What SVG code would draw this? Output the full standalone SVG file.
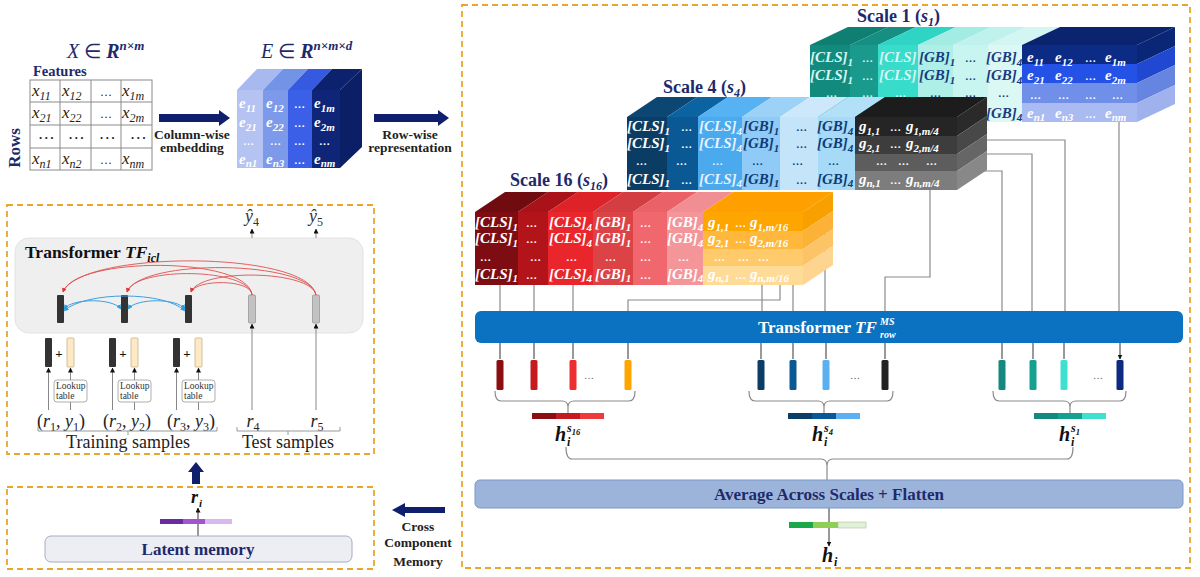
<svg xmlns="http://www.w3.org/2000/svg" width="1200" height="577" viewBox="0 0 1200 577">
<style>
.bt{font-family:"Liberation Serif",serif;font-weight:bold;font-style:italic;font-size:15px}
.s{font-size:11px}
.d{font-size:11px;font-style:normal}
.ser{font-family:"Liberation Serif",serif}
.nvy{fill:#1e2a6b}
.lbl{font-family:"Liberation Serif",serif;font-weight:bold;font-size:13.5px;fill:#222;text-anchor:middle}
.dash{fill:none;stroke:#e8a72a;stroke-width:1.8;stroke-dasharray:6 4}
.ln{fill:none;stroke:#8a8a8a;stroke-width:1.2}
.ar{fill:none;stroke:#333;stroke-width:1;marker-end:url(#ah)}
.cell{font-family:"Liberation Serif",serif;font-style:italic;font-size:17px;fill:#222}
</style>
<defs>
<marker id="ah" viewBox="0 0 10 10" refX="9" refY="5" markerWidth="5" markerHeight="5" orient="auto-start-reverse"><path d="M0,0 L10,5 L0,10 z" fill="#111"/></marker>
<marker id="ahr" viewBox="0 0 10 10" refX="9" refY="5" markerWidth="5" markerHeight="5" orient="auto-start-reverse"><path d="M0,0 L10,5 L0,10 z" fill="#e03c3c"/></marker>
<marker id="ahb" viewBox="0 0 10 10" refX="9" refY="5" markerWidth="5" markerHeight="5" orient="auto-start-reverse"><path d="M0,0 L10,5 L0,10 z" fill="#2f9be0"/></marker>
</defs>
<rect width="1200" height="577" fill="#fff"/>

<!-- dashed frames -->
<rect class="dash" x="462" y="5" width="728" height="563"/>
<rect class="dash" x="7" y="205" width="367" height="249"/>
<rect class="dash" x="7" y="487" width="367" height="82"/>

<!-- Input table -->
<g id="input-table">
<text x="67" y="58" class="ser nvy" font-size="20"><tspan font-style="italic">X</tspan> ∈ <tspan font-weight="bold" font-style="italic">R</tspan><tspan font-size="13" dy="-8" font-weight="bold" font-style="italic">n×m</tspan></text>
<text x="33" y="76" class="ser nvy" font-size="14.5" font-weight="bold">Features</text>
<text transform="translate(20,148) rotate(-90)" text-anchor="middle" class="ser nvy" font-size="17" font-weight="bold">Rows</text>
<g stroke="#8a8a8a" stroke-width="1" fill="none">
<rect x="30" y="80" width="122" height="90"/>
<path d="M60,80V170M91,80V170M121,80V170M30,102H152M30,125H152M30,148H152"/>
</g>
<text class="cell" y="96"><tspan x="32">x</tspan><tspan font-size="12" dy="4">11</tspan><tspan x="62" dy="-4">x</tspan><tspan font-size="12" dy="4">12</tspan><tspan x="100" dy="-4" font-size="12" font-style="normal">…</tspan><tspan x="122">x</tspan><tspan font-size="12" dy="4">1m</tspan></text>
<text class="cell" y="118"><tspan x="32">x</tspan><tspan font-size="12" dy="4">21</tspan><tspan x="62" dy="-4">x</tspan><tspan font-size="12" dy="4">22</tspan><tspan x="100" dy="-4" font-size="12" font-style="normal">…</tspan><tspan x="122">x</tspan><tspan font-size="12" dy="4">2m</tspan></text>
<text class="cell" y="139" font-size="12" font-style="normal"><tspan x="39">…</tspan><tspan x="69">…</tspan><tspan x="100">…</tspan><tspan x="131">…</tspan></text>
<text class="cell" y="164"><tspan x="32">x</tspan><tspan font-size="12" dy="4">n1</tspan><tspan x="62" dy="-4">x</tspan><tspan font-size="12" dy="4">n2</tspan><tspan x="100" dy="-4" font-size="12" font-style="normal">…</tspan><tspan x="122">x</tspan><tspan font-size="12" dy="4">nm</tspan></text>
</g>

<!-- arrows top -->
<g id="arrow-embed">
<polygon points="159,114 219,114 219,110 230,118 219,126 219,122 159,122" fill="#0f1f6e"/>
<text class="lbl" x="192" y="139">Column-wise</text>
<text class="lbl" x="192" y="152">embedding</text>
</g>
<g id="arrow-row">
<polygon points="374,114 438,114 438,110 449,118 438,126 438,122 374,122" fill="#0f1f6e"/>
<text class="lbl" x="410" y="139">Row-wise</text>
<text class="lbl" x="410" y="152">representation</text>
</g>

<!-- Embedding cube -->
<g id="embedding-cube">
<text x="261" y="58" class="ser nvy" font-size="20"><tspan font-style="italic">E</tspan> ∈ <tspan font-weight="bold" font-style="italic">R</tspan><tspan font-size="13" dy="-8" font-weight="bold" font-style="italic">n×m×d</tspan></text>
<polygon points="237,90 263,90 283,69 257,69" fill="#a8b9ef"/>
<rect x="237" y="90" width="26" height="78" fill="#b4c3f2"/>
<polygon points="263,90 288,90 308,69 283,69" fill="#7393e6"/>
<rect x="263" y="90" width="25" height="78" fill="#7d99ea"/>
<polygon points="288,90 312,90 332,69 308,69" fill="#355ae0"/>
<rect x="288" y="90" width="24" height="78" fill="#3b5fe6"/>
<polygon points="312,90 340,90 362,69 332,69" fill="#0c226e"/>
<rect x="312" y="90" width="28" height="78" fill="#0f2577"/>
<polygon points="340,90 362,69 362,147 340,168" fill="#0b1f66"/>
<text class="bt" y="108" fill="#fff"><tspan x="239">e</tspan><tspan class="s" dy="4">11</tspan><tspan x="266" dy="-4">e</tspan><tspan class="s" dy="4">12</tspan><tspan class="d" x="294" dy="-4">…</tspan><tspan x="314">e</tspan><tspan class="s" dy="4">1m</tspan></text>
<text class="bt" y="127" fill="#fff"><tspan x="239">e</tspan><tspan class="s" dy="4">21</tspan><tspan x="266" dy="-4">e</tspan><tspan class="s" dy="4">22</tspan><tspan class="d" x="294" dy="-4">…</tspan><tspan x="314">e</tspan><tspan class="s" dy="4">2m</tspan></text>
<text class="bt d" y="145" fill="#fff"><tspan x="243">…</tspan><tspan x="270">…</tspan><tspan x="294">…</tspan><tspan x="319">…</tspan></text>
<text class="bt" y="164" fill="#fff"><tspan x="239">e</tspan><tspan class="s" dy="3">n1</tspan><tspan x="266" dy="-3">e</tspan><tspan class="s" dy="3">n3</tspan><tspan class="d" x="294" dy="-3">…</tspan><tspan x="314">e</tspan><tspan class="s" dy="3">nm</tspan></text>
</g>

<!-- ICL transformer -->
<g id="transformer-icl">
<rect x="15" y="238" width="348" height="95" rx="14" fill="#efefef" stroke="#e2e2e2"/>
<text x="25" y="258" class="ser" font-size="17.5" font-weight="bold" fill="#111">Transformer <tspan font-style="italic">TF</tspan><tspan font-style="italic" font-size="12" dy="4">icl</tspan></text>
<rect x="57" y="295" width="7" height="28" rx="1" fill="#333"/>
<rect x="121" y="295" width="7" height="28" rx="1" fill="#333"/>
<rect x="185" y="295" width="7" height="28" rx="1" fill="#333"/>
<rect x="248.5" y="295" width="7" height="28" rx="1" fill="#c2c2c2" stroke="#999" stroke-width="0.8"/>
<rect x="312.5" y="295" width="7" height="28" rx="1" fill="#c2c2c2" stroke="#999" stroke-width="0.8"/>
<text class="ser" font-size="18" font-style="italic" fill="#333" y="222"><tspan x="245">ŷ</tspan><tspan font-size="12" dy="4" font-style="normal">4</tspan><tspan x="309" dy="-4">ŷ</tspan><tspan font-size="12" dy="4" font-style="normal">5</tspan></text>
</g>
<g id="training-inputs">
<rect x="45" y="338" width="7" height="29" rx="1" fill="#333"/><text x="59" y="358" text-anchor="middle" class="ser" font-size="13" font-weight="bold" fill="#111">+</text><rect x="67" y="338" width="7" height="29" rx="1" fill="#fde9c6" stroke="#c8b088" stroke-width="0.8"/>
<rect x="109" y="338" width="7" height="29" rx="1" fill="#333"/><text x="123" y="358" text-anchor="middle" class="ser" font-size="13" font-weight="bold" fill="#111">+</text><rect x="131" y="338" width="7" height="29" rx="1" fill="#fde9c6" stroke="#c8b088" stroke-width="0.8"/>
<rect x="173" y="338" width="7" height="29" rx="1" fill="#333"/><text x="187" y="358" text-anchor="middle" class="ser" font-size="13" font-weight="bold" fill="#111">+</text><rect x="195" y="338" width="7" height="29" rx="1" fill="#fde9c6" stroke="#c8b088" stroke-width="0.8"/>
<g fill="#fff" stroke="#999" stroke-width="0.8">
<rect x="54" y="380" width="33" height="22" rx="3"/><rect x="118" y="380" width="33" height="22" rx="3"/><rect x="182" y="380" width="33" height="22" rx="3"/>
</g>
<g class="ser" font-size="9.5" fill="#333">
<text x="56" y="389">Lookup</text><text x="56" y="399">table</text>
<text x="120" y="389">Lookup</text><text x="120" y="399">table</text>
<text x="184" y="389">Lookup</text><text x="184" y="399">table</text>
</g>
<g class="ser" font-size="18" fill="#222" text-anchor="middle">
<text x="61" y="427">(<tspan font-style="italic">r</tspan><tspan font-size="12" dy="4">1</tspan><tspan dy="-4">, </tspan><tspan font-style="italic">y</tspan><tspan font-size="12" dy="4">1</tspan><tspan dy="-4">)</tspan></text>
<text x="127" y="427">(<tspan font-style="italic">r</tspan><tspan font-size="12" dy="4">2</tspan><tspan dy="-4">, </tspan><tspan font-style="italic">y</tspan><tspan font-size="12" dy="4">2</tspan><tspan dy="-4">)</tspan></text>
<text x="191" y="427">(<tspan font-style="italic">r</tspan><tspan font-size="12" dy="4">3</tspan><tspan dy="-4">, </tspan><tspan font-style="italic">y</tspan><tspan font-size="12" dy="4">3</tspan><tspan dy="-4">)</tspan></text>
<text x="253" y="427"><tspan font-style="italic">r</tspan><tspan font-size="12" dy="4">4</tspan></text>
<text x="317" y="427"><tspan font-style="italic">r</tspan><tspan font-size="12" dy="4">5</tspan></text>
<text x="128" y="448">Training samples</text>
<text x="288" y="448">Test samples</text>
</g>
</g>

<!-- Connectors -->
<g id="connectors">
<path class="ln" d="M500,280V311M534,280V311M573,280V311M780,280V300H628V311M762,200V311M793,200V311M825,200V311M930,180V277H885V311M975,140H1065V311M975,154H1032V311M975,171H1002V311M1119,115V311"/>
<path class="ar" d="M500,343V359M534,343V359M573,343V359M628,343V359M761,343V359M793,343V359M826,343V359M885,343V359M1002,343V359M1033,343V359M1064,343V359M1120,343V359"/>
<path class="ln" d="M495,391Q495,401 501,401H562Q568,401 568,407Q568,401 574,401H629Q635,401 635,391M568,407V413"/>
<path class="ln" d="M749,391Q749,401 755,401H818Q824,401 824,407Q824,401 830,401H887Q893,401 893,391M824,407V413"/>
<path class="ln" d="M993,391Q993,401 999,401H1064Q1070,401 1070,407Q1070,401 1076,401H1120Q1126,401 1126,391M1070,407V413"/>
<path class="ln" d="M566,447Q566,459 572,459H821Q827,459 827,466Q827,459 833,459H1067Q1073,459 1073,447M827,466V480"/>
<path class="ar" d="M829,508V546"/>
<path class="ar" d="M198,536V508"/>
<g fill="none" stroke="#e05050" stroke-width="0.9" marker-end="url(#ahr)">
<path d="M252,295C252,279 196,279 191,292"/>
<path d="M252,295C250,268 135,266 127,292"/>
<path d="M252,295C248,256 75,256 63,292"/>
<path d="M316,295C312,270 200,268 191,292"/>
<path d="M316,295C310,260 140,258 127,292"/>
<path d="M316,295C308,250 80,250 63,292"/>
</g>
<g fill="none" stroke="#3ca0e0" stroke-width="1" marker-end="url(#ahb)" marker-start="url(#ahb)">
<path d="M64,309C72,298 113,298 121,309"/>
<path d="M128,309C136,298 177,298 185,309"/>
<path d="M64,311C85,291 165,291 185,311"/>
</g>
<g fill="none" stroke="#888" stroke-width="1">
<path d="M48.5,410V368" marker-end="url(#ah)"/>
<path d="M112.5,410V368" marker-end="url(#ah)"/>
<path d="M176.5,410V368" marker-end="url(#ah)"/>
<path d="M70.5,380V368" marker-end="url(#ah)"/>
<path d="M134.5,380V368" marker-end="url(#ah)"/>
<path d="M198.5,380V368" marker-end="url(#ah)"/>
<path d="M70.5,410V402M134.5,410V402M198.5,410V402"/>
<path d="M252,410V324" marker-end="url(#ah)"/>
<path d="M316,410V324" marker-end="url(#ah)"/>
<path d="M252,238V229" marker-end="url(#ah)"/>
<path d="M316,238V229" marker-end="url(#ah)"/>
<path d="M38,427V431H217V427M128,431V435M237,427V431H340V427M288,431V435" stroke="#999"/>
</g>
</g>

<!-- Scale 1 block -->
<g id="scale1">
<text x="857" y="22" class="ser nvy" font-size="18" font-weight="bold">Scale 1 (<tspan font-style="italic">s</tspan><tspan font-style="italic" font-size="12" dy="4">1</tspan><tspan dy="-4">)</tspan></text>
<polygon points="810,45 850,45 888,27 848,27" fill="#0f7f74"/><rect x="810" y="45" width="40" height="77" fill="#138a7e"/>
<polygon points="850,45 878,45 916,27 888,27" fill="#168f82"/><rect x="850" y="45" width="28" height="77" fill="#1a9a8c"/>
<polygon points="878,45 918,45 956,27 916,27" fill="#2fd4c4"/><rect x="878" y="45" width="40" height="77" fill="#38dccb"/>
<polygon points="918,45 953,45 991,27 956,27" fill="#a2ece4"/><rect x="918" y="45" width="35" height="77" fill="#aef0e8"/>
<polygon points="953,45 988,45 1026,27 991,27" fill="#bff2ec"/><rect x="953" y="45" width="35" height="77" fill="#c8f5f0"/>
<polygon points="988,45 1022,45 1060,27 1026,27" fill="#d3f6f2"/><rect x="988" y="45" width="34" height="77" fill="#dcf8f5"/>
<polygon points="1022,45 1137,45 1175,27 1060,27" fill="#0a2470"/>
<rect x="1022" y="45" width="115" height="19" fill="#0c2b84"/>
<rect x="1022" y="64" width="115" height="19" fill="#2552e6"/>
<rect x="1022" y="83" width="115" height="20" fill="#6f8fe8"/>
<rect x="1022" y="103" width="115" height="19" fill="#aabbf2"/>
<polygon points="1137,45 1175,27 1175,46 1137,64" fill="#0a2676"/>
<polygon points="1137,64 1175,46 1175,65 1137,83" fill="#2048d0"/>
<polygon points="1137,83 1175,65 1175,85 1137,103" fill="#6585e0"/>
<polygon points="1137,103 1175,85 1175,104 1137,122" fill="#a0b2ee"/>
<text class="bt" y="62" fill="#d6f7f2"><tspan x="810">[CLS]</tspan><tspan class="s" dy="4">1</tspan><tspan class="d" x="862" dy="-4">…</tspan><tspan x="879">[CLS]</tspan></text>
<text class="bt" y="62" fill="#173a80"><tspan x="919">[GB]</tspan><tspan class="s" dy="4">1</tspan><tspan class="d" x="965" dy="-4">…</tspan><tspan x="986">[GB]</tspan><tspan class="s" dy="4">4</tspan></text>
<text class="bt" y="62" fill="#fff"><tspan x="1027">e</tspan><tspan class="s" dy="4">11</tspan><tspan x="1055" dy="-4">e</tspan><tspan class="s" dy="4">12</tspan><tspan class="d" x="1085" dy="-4">…</tspan><tspan x="1105">e</tspan><tspan class="s" dy="4">1m</tspan></text>
<text class="bt" y="80" fill="#d6f7f2"><tspan x="810">[CLS]</tspan><tspan class="s" dy="4">1</tspan><tspan class="d" x="862" dy="-4">…</tspan><tspan x="879">[CLS]</tspan></text>
<text class="bt" y="80" fill="#173a80"><tspan x="919">[GB]</tspan><tspan class="s" dy="4">1</tspan><tspan class="d" x="965" dy="-4">…</tspan><tspan x="986">[GB]</tspan><tspan class="s" dy="4">4</tspan></text>
<text class="bt" y="80" fill="#fff"><tspan x="1027">e</tspan><tspan class="s" dy="4">21</tspan><tspan x="1055" dy="-4">e</tspan><tspan class="s" dy="4">22</tspan><tspan class="d" x="1085" dy="-4">…</tspan><tspan x="1105">e</tspan><tspan class="s" dy="4">2m</tspan></text>
<text class="bt d" y="97" fill="#d6f7f2"><tspan x="826">…</tspan><tspan x="862">…</tspan><tspan x="895">…</tspan></text>
<text class="bt d" y="97" fill="#173a80"><tspan x="930">…</tspan><tspan x="965">…</tspan><tspan x="998">…</tspan></text>
<text class="bt d" y="99" fill="#fff"><tspan x="1030">…</tspan><tspan x="1058">…</tspan><tspan x="1085">…</tspan><tspan x="1112">…</tspan></text>
<text class="bt" y="118" fill="#173a80"><tspan x="986">[GB]</tspan><tspan class="s" dy="3">4</tspan></text>
<text class="bt" y="118" fill="#fff"><tspan x="1027">e</tspan><tspan class="s" dy="3">n1</tspan><tspan x="1055" dy="-3">e</tspan><tspan class="s" dy="3">n3</tspan><tspan class="d" x="1085" dy="-3">…</tspan><tspan x="1105">e</tspan><tspan class="s" dy="3">nm</tspan></text>
</g>

<!-- Scale 4 block -->
<g id="scale4">
<text x="663" y="93" class="ser nvy" font-size="18" font-weight="bold">Scale 4 (<tspan font-style="italic">s</tspan><tspan font-style="italic" font-size="12" dy="4">4</tspan><tspan dy="-4">)</tspan></text>
<polygon points="627,117 667,117 697,97 657,97" fill="#0c4672"/><rect x="627" y="117" width="40" height="73" fill="#0a3c64"/>
<polygon points="667,117 698,117 728,97 697,97" fill="#0c63a2"/><rect x="667" y="117" width="31" height="73" fill="#0b5994"/>
<polygon points="698,117 742,117 772,97 728,97" fill="#56b2f2"/><rect x="698" y="117" width="44" height="73" fill="#4ba9ee"/>
<polygon points="742,117 780,117 810,97 772,97" fill="#9cd2f7"/><rect x="742" y="117" width="38" height="73" fill="#8fcbf6"/>
<polygon points="780,117 818,117 848,97 810,97" fill="#cde8fb"/><rect x="780" y="117" width="38" height="73" fill="#c4e4fa"/>
<polygon points="818,117 855,117 885,97 848,97" fill="#b2e0f8"/><rect x="818" y="117" width="37" height="73" fill="#a6daf6"/>
<polygon points="855,117 957,117 987,97 885,97" fill="#1c1c1c"/>
<rect x="855" y="117" width="102" height="19" fill="#252525"/>
<rect x="855" y="136" width="102" height="18" fill="#3d3d3d"/>
<rect x="855" y="154" width="102" height="17" fill="#5d5d5d"/>
<rect x="855" y="171" width="102" height="19" fill="#7d7d7d"/>
<polygon points="957,117 987,97 987,116 957,136" fill="#2a2a2a"/>
<polygon points="957,136 987,116 987,134 957,154" fill="#484848"/>
<polygon points="957,154 987,134 987,151 957,171" fill="#666"/>
<polygon points="957,171 987,151 987,170 957,190" fill="#888"/>
<text class="bt" y="131" fill="#fff"><tspan x="627">[CLS]</tspan><tspan class="s" dy="4">1</tspan><tspan class="d" x="681" dy="-4">…</tspan></text>
<text class="bt" y="131" fill="#e6f4ff"><tspan x="699">[CLS]</tspan><tspan class="s" dy="4">4</tspan></text>
<text class="bt" y="131" fill="#0f3a78"><tspan x="743">[GB]</tspan><tspan class="s" dy="4">1</tspan><tspan class="d" x="796" dy="-4">…</tspan><tspan x="817">[GB]</tspan><tspan class="s" dy="4">4</tspan></text>
<text class="bt" y="131" fill="#fff"><tspan x="859">g</tspan><tspan class="s" dy="4">1,1</tspan><tspan class="d" x="890" dy="-4">…</tspan><tspan x="906">g</tspan><tspan class="s" dy="4">1,m/4</tspan></text>
<text class="bt" y="148" fill="#fff"><tspan x="627">[CLS]</tspan><tspan class="s" dy="4">1</tspan><tspan class="d" x="681" dy="-4">…</tspan></text>
<text class="bt" y="148" fill="#e6f4ff"><tspan x="699">[CLS]</tspan><tspan class="s" dy="4">4</tspan></text>
<text class="bt" y="148" fill="#0f3a78"><tspan x="743">[GB]</tspan><tspan class="s" dy="4">1</tspan><tspan class="d" x="796" dy="-4">…</tspan><tspan x="817">[GB]</tspan><tspan class="s" dy="4">4</tspan></text>
<text class="bt" y="148" fill="#fff"><tspan x="859">g</tspan><tspan class="s" dy="4">2,1</tspan><tspan class="d" x="890" dy="-4">…</tspan><tspan x="906">g</tspan><tspan class="s" dy="4">2,m/4</tspan></text>
<text class="bt d" y="165" fill="#fff"><tspan x="636">…</tspan><tspan x="676">…</tspan></text>
<text class="bt d" y="165" fill="#e6f4ff"><tspan x="712">…</tspan></text>
<text class="bt d" y="165" fill="#0f3a78"><tspan x="752">…</tspan><tspan x="792">…</tspan><tspan x="828">…</tspan></text>
<text class="bt d" y="165" fill="#fff"><tspan x="876">…</tspan><tspan x="898">…</tspan><tspan x="926">…</tspan></text>
<text class="bt" y="184" fill="#fff"><tspan x="627">[CLS]</tspan><tspan class="s" dy="3">1</tspan><tspan class="d" x="681" dy="-3">…</tspan></text>
<text class="bt" y="184" fill="#e6f4ff"><tspan x="699">[CLS]</tspan><tspan class="s" dy="3">4</tspan></text>
<text class="bt" y="184" fill="#0f3a78"><tspan x="743">[GB]</tspan><tspan class="s" dy="3">1</tspan><tspan class="d" x="796" dy="-3">…</tspan><tspan x="817">[GB]</tspan><tspan class="s" dy="3">4</tspan></text>
<text class="bt" y="184" fill="#fff"><tspan x="859">g</tspan><tspan class="s" dy="3">n,1</tspan><tspan class="d" x="890" dy="-3">…</tspan><tspan x="906">g</tspan><tspan class="s" dy="3">n,m/4</tspan></text>
</g>

<!-- Scale 16 block -->
<g id="scale16">
<text x="510" y="186" class="ser nvy" font-size="18" font-weight="bold">Scale 16 (<tspan font-style="italic">s</tspan><tspan font-style="italic" font-size="12" dy="4">16</tspan><tspan dy="-4">)</tspan></text>
<polygon points="475,212 518,212 548,192 505,192" fill="#700b10"/><rect x="475" y="212" width="43" height="73" fill="#7d0d12"/>
<polygon points="518,212 548,212 578,192 548,192" fill="#a81218"/><rect x="518" y="212" width="30" height="73" fill="#b3141a"/>
<polygon points="548,212 593,212 623,192 578,192" fill="#dd2328"/><rect x="548" y="212" width="45" height="73" fill="#e9262b"/>
<polygon points="593,212 633,212 663,192 623,192" fill="#d23e42"/><rect x="593" y="212" width="40" height="73" fill="#dc4347"/>
<polygon points="633,212 667,212 697,192 663,192" fill="#ea6268"/><rect x="633" y="212" width="34" height="73" fill="#f0686d"/>
<polygon points="667,212 703,212 733,192 697,192" fill="#f08e93"/><rect x="667" y="212" width="36" height="73" fill="#f49599"/>
<polygon points="703,212 803,212 833,192 733,192" fill="#ffa000"/>
<rect x="703" y="212" width="100" height="19" fill="#ffa500"/>
<rect x="703" y="231" width="100" height="18" fill="#ffb83c"/>
<rect x="703" y="249" width="100" height="17" fill="#ffca6c"/>
<rect x="703" y="266" width="100" height="19" fill="#ffdb98"/>
<polygon points="803,212 833,192 833,211 803,231" fill="#f7a000"/>
<polygon points="803,231 833,211 833,229 803,249" fill="#fbb236"/>
<polygon points="803,249 833,229 833,246 803,266" fill="#fcc466"/>
<polygon points="803,266 833,246 833,265 803,285" fill="#fdd590"/>
<text class="bt" y="227" fill="#fff"><tspan x="475">[CLS]</tspan><tspan class="s" dy="4">1</tspan><tspan class="d" x="526" dy="-4">…</tspan><tspan x="549">[CLS]</tspan><tspan class="s" dy="4">4</tspan><tspan x="595" dy="-4">[GB]</tspan><tspan class="s" dy="4">1</tspan><tspan class="d" x="640" dy="-4">…</tspan><tspan x="667">[GB]</tspan><tspan class="s" dy="4">4</tspan><tspan x="708" dy="-4">g</tspan><tspan class="s" dy="4">1,1</tspan><tspan class="d" x="735" dy="-4">…</tspan><tspan x="750">g</tspan><tspan class="s" dy="4">1,m/16</tspan></text>
<text class="bt" y="243" fill="#fff"><tspan x="475">[CLS]</tspan><tspan class="s" dy="4">1</tspan><tspan class="d" x="526" dy="-4">…</tspan><tspan x="549">[CLS]</tspan><tspan class="s" dy="4">4</tspan><tspan x="595" dy="-4">[GB]</tspan><tspan class="s" dy="4">1</tspan><tspan class="d" x="640" dy="-4">…</tspan><tspan x="667">[GB]</tspan><tspan class="s" dy="4">4</tspan><tspan x="708" dy="-4">g</tspan><tspan class="s" dy="4">2,1</tspan><tspan class="d" x="735" dy="-4">…</tspan><tspan x="750">g</tspan><tspan class="s" dy="4">2,m/16</tspan></text>
<text class="bt d" y="261" fill="#fff"><tspan x="480">…</tspan><tspan x="530">…</tspan><tspan x="566">…</tspan><tspan x="605">…</tspan><tspan x="640">…</tspan><tspan x="678">…</tspan><tspan x="714">…</tspan><tspan x="738">…</tspan><tspan x="758">…</tspan></text>
<text class="bt" y="279" fill="#fff"><tspan x="475">[CLS]</tspan><tspan class="s" dy="3">1</tspan><tspan class="d" x="526" dy="-3">…</tspan><tspan x="549">[CLS]</tspan><tspan class="s" dy="3">4</tspan><tspan x="595" dy="-3">[GB]</tspan><tspan class="s" dy="3">1</tspan><tspan class="d" x="640" dy="-3">…</tspan><tspan x="667">[GB]</tspan><tspan class="s" dy="3">4</tspan><tspan x="708" dy="-3">g</tspan><tspan class="s" dy="3">n,1</tspan><tspan class="d" x="735" dy="-3">…</tspan><tspan x="750">g</tspan><tspan class="s" dy="3">n,m/16</tspan></text>
</g>

<!-- Transformer row -->
<g id="transformer-row">
<rect x="475" y="311" width="708" height="32" rx="6" fill="#0b72c1"/>
<text x="758" y="333" class="ser" font-size="17" font-weight="bold" fill="#fff">Transformer <tspan font-style="italic">TF</tspan></text>
<text x="880" y="325" class="ser" font-size="10" font-weight="bold" font-style="italic" fill="#fff">MS</text>
<text x="880" y="338" class="ser" font-size="10" font-weight="bold" font-style="italic" fill="#fff">row</text>
</g>

<!-- Token bars -->
<g id="token-bars">
<rect x="496.5" y="360" width="7" height="30" rx="1.5" fill="#8b0e13"/>
<rect x="530.5" y="360" width="7" height="30" rx="1.5" fill="#c41a20"/>
<rect x="569.5" y="360" width="7" height="30" rx="1.5" fill="#ee2d30"/>
<rect x="624.5" y="360" width="7" height="30" rx="1.5" fill="#ffa500"/>
<rect x="757.5" y="360" width="7" height="30" rx="1.5" fill="#0b3d66"/>
<rect x="789.5" y="360" width="7" height="30" rx="1.5" fill="#0b5994"/>
<rect x="822.5" y="360" width="7" height="30" rx="1.5" fill="#5ab0f0"/>
<rect x="881.5" y="360" width="7" height="30" rx="1.5" fill="#222"/>
<rect x="998.5" y="360" width="7" height="30" rx="1.5" fill="#138a7d"/>
<rect x="1029.5" y="360" width="7" height="30" rx="1.5" fill="#16a090"/>
<rect x="1060.5" y="360" width="7" height="30" rx="1.5" fill="#3ee0d0"/>
<rect x="1116.5" y="360" width="7" height="30" rx="1.5" fill="#0b2a80"/>
<text class="ser" font-size="10" fill="#555" y="379"><tspan x="584">…</tspan><tspan x="850">…</tspan><tspan x="1093">…</tspan></text>
</g>

<!-- scale embeddings -->
<g id="h-s16">
<rect x="532" y="413" width="24" height="6" fill="#8b0e13"/><rect x="556" y="413" width="24" height="6" fill="#c41a20"/><rect x="580" y="413" width="24" height="6" fill="#ee3a3a"/>
<text x="555" y="441" class="ser" font-size="20" font-weight="bold" font-style="italic" fill="#111">h</text>
<text x="567" y="432" class="ser" font-size="12" font-weight="bold" font-style="italic" fill="#111">s<tspan font-size="8.5" dy="3">16</tspan></text>
<text x="567" y="446" class="ser" font-size="12" font-weight="bold" font-style="italic" fill="#111">i</text>
</g>
<g id="h-s4">
<rect x="788" y="413" width="24" height="6" fill="#0b3d66"/><rect x="812" y="413" width="24" height="6" fill="#0b5994"/><rect x="836" y="413" width="24" height="6" fill="#5ab0f0"/>
<text x="812" y="441" class="ser" font-size="20" font-weight="bold" font-style="italic" fill="#111">h</text>
<text x="824" y="432" class="ser" font-size="12" font-weight="bold" font-style="italic" fill="#111">s<tspan font-size="8.5" dy="3">4</tspan></text>
<text x="824" y="446" class="ser" font-size="12" font-weight="bold" font-style="italic" fill="#111">i</text>
</g>
<g id="h-s1">
<rect x="1034" y="413" width="24" height="6" fill="#138a7d"/><rect x="1058" y="413" width="24" height="6" fill="#16a090"/><rect x="1082" y="413" width="24" height="6" fill="#3ee0d0"/>
<text x="1059" y="441" class="ser" font-size="20" font-weight="bold" font-style="italic" fill="#111">h</text>
<text x="1071" y="432" class="ser" font-size="12" font-weight="bold" font-style="italic" fill="#111">s<tspan font-size="8.5" dy="3">1</tspan></text>
<text x="1071" y="446" class="ser" font-size="12" font-weight="bold" font-style="italic" fill="#111">i</text>
</g>

<!-- Average -->
<g id="average">
<rect x="475" y="480" width="708" height="28" rx="5" fill="#9db4da" stroke="#7a98c8"/>
<text x="829" y="500" text-anchor="middle" class="ser nvy" font-size="17" font-weight="bold">Average Across Scales + Flatten</text>
</g>
<g id="h-out">
<rect x="789" y="522" width="24" height="6" fill="#1aa84a"/><rect x="813" y="522" width="25" height="6" fill="#8fcf56"/><rect x="838" y="522" width="28" height="6" fill="#e0f2d6" stroke="#aac0a0" stroke-width="0.6"/>
<text x="822" y="562" class="ser" font-size="20" font-weight="bold" font-style="italic" fill="#111">h</text>
<text x="834" y="566" class="ser" font-size="12" font-weight="bold" font-style="italic" fill="#111">i</text>
</g>

<!-- up arrow -->
<g id="arrow-up"><polygon points="196,462 204,472 200,472 200,484 192,484 192,472 188,472" fill="#0f1f6e"/></g>

<!-- Latent memory -->
<g id="latent-memory">
<rect x="45" y="536" width="307" height="26" rx="6" fill="#eceef4" stroke="#a6acc2"/>
<text x="198" y="555" text-anchor="middle" class="ser nvy" font-size="17" font-weight="bold">Latent memory</text>
<rect x="160" y="519" width="23" height="5" fill="#6b2a9e"/><rect x="183" y="519" width="22" height="5" fill="#a354d0"/><rect x="205" y="519" width="27" height="5" fill="#d8b8ee"/>
<text x="191" y="503" class="ser" font-size="18" font-weight="bold" font-style="italic" fill="#111">r</text>
<text x="199" y="507" class="ser" font-size="11" font-weight="bold" font-style="italic" fill="#111">i</text>
</g>

<!-- Cross component memory -->
<g id="cross-memory">
<polygon points="392,510 405,503 405,507 445,507 445,513 405,513 405,517" fill="#0f1f6e"/>
<text class="lbl" font-size="14" x="418" y="531">Cross</text>
<text class="lbl" font-size="14" x="418" y="547">Component</text>
<text class="lbl" font-size="14" x="418" y="566">Memory</text>
</g>
</svg>
